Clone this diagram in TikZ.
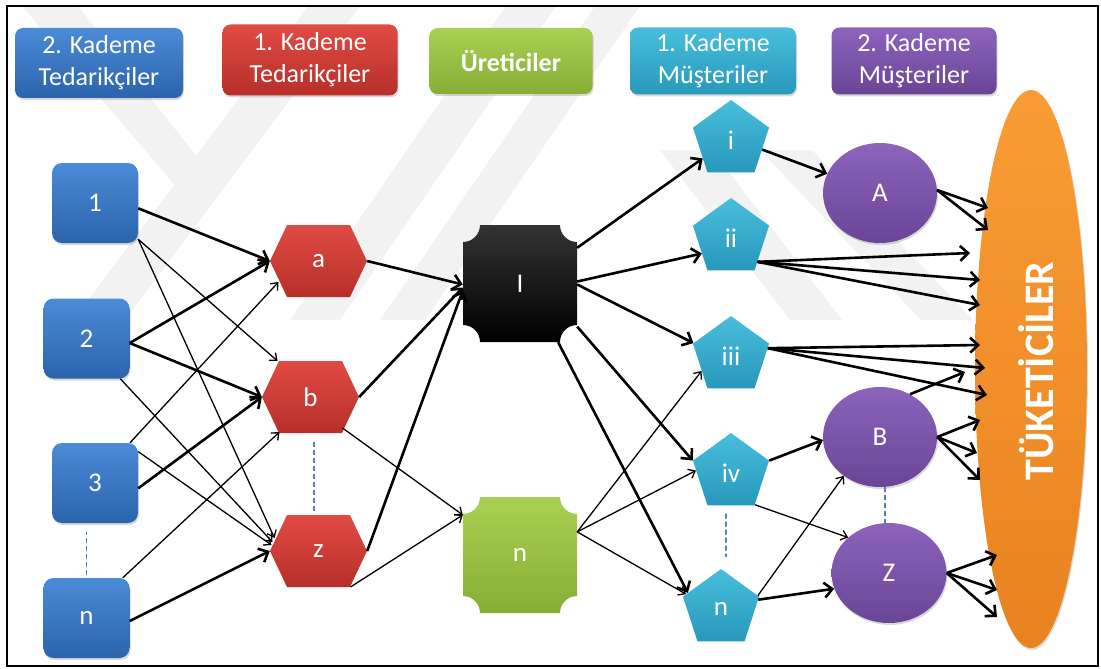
\documentclass[tikz,border=0pt]{standalone}
\usepackage{fontspec}
\setmainfont{Carlito}
\usetikzlibrary{arrows.meta,calc,shapes.geometric,shadows}

\definecolor{bluetop}{HTML}{4B8BD7}
\definecolor{bluebot}{HTML}{2C63AD}
\definecolor{redtop}{HTML}{E04B44}
\definecolor{redbot}{HTML}{B72F29}
\definecolor{greentop}{HTML}{AAD053}
\definecolor{greenbot}{HTML}{86AD35}
\definecolor{cyantop}{HTML}{48BEDC}
\definecolor{cyanbot}{HTML}{2898BB}
\definecolor{purptop}{HTML}{8D63BC}
\definecolor{purpbot}{HTML}{6A4596}
\definecolor{orangetop}{HTML}{FA9C35}
\definecolor{orangebot}{HTML}{E8831F}
\definecolor{dashblue}{HTML}{4F7FC0}
\definecolor{wmark}{HTML}{F2F2F2}

\begin{document}
\begin{tikzpicture}[x=1pt,y=1pt,
  lbl/.style={text=white,font=\fontsize{27}{30}\selectfont},
  soft shadow/.style={drop shadow={shadow xshift=1pt,shadow yshift=-2pt,opacity=0.3}},
  hdr/.style={rectangle,rounded corners=8pt,align=center,inner sep=0pt,text=white,
    font=\fontsize{26}{32}\selectfont,soft shadow},
  sqbox/.style={rectangle,rounded corners=10pt,minimum width=86pt,minimum height=80pt,
    inner sep=0pt,top color=bluetop,bottom color=bluebot,lbl,soft shadow},
  hexbox/.style={rectangle,minimum width=97pt,minimum height=72pt,inner sep=0pt,lbl,
    path picture={\shade[top color=redtop,bottom color=redbot]
      (path picture bounding box.west)
      -- ([xshift=17pt]path picture bounding box.north west)
      -- ([xshift=-17pt]path picture bounding box.north east)
      -- (path picture bounding box.east)
      -- ([xshift=-17pt]path picture bounding box.south east)
      -- ([xshift=17pt]path picture bounding box.south west) -- cycle;}},
  plaque/.style 2 args={rectangle,minimum width=114pt,minimum height=117pt,inner sep=0pt,lbl,
    path picture={\shade[top color=#1,bottom color=#2]
      ([xshift=17pt]path picture bounding box.north west)
      -- ([xshift=-17pt]path picture bounding box.north east)
      arc[start angle=180,end angle=270,radius=17pt]
      -- ([yshift=17pt]path picture bounding box.south east)
      arc[start angle=90,end angle=180,radius=17pt]
      -- ([xshift=17pt]path picture bounding box.south west)
      arc[start angle=0,end angle=90,radius=17pt]
      -- ([yshift=-17pt]path picture bounding box.north west)
      arc[start angle=270,end angle=360,radius=17pt] -- cycle;}},
  pent/.style={regular polygon,regular polygon sides=5,minimum size=80pt,inner sep=0pt,
    top color=cyantop,bottom color=cyanbot,lbl},
  oval/.style={ellipse,minimum width=114pt,minimum height=100pt,inner sep=0pt,
    top color=purptop,bottom color=purpbot,lbl,soft shadow},
  thk/.style={line width=2.6pt,-{Straight Barb[length=8pt,width=15pt]}},
  thn/.style={line width=1.3pt,-{Straight Barb[length=6pt,width=10pt]}},
  gap/.style={draw=dashblue,line width=1.6pt,dash pattern=on 5pt off 3pt}
]
\useasboundingbox (0,0) rectangle (1101,-669);

% faint background emblem
\begin{scope}
  \clip (7,-6) rectangle (1098,-666);
  \fill[wmark] (22,-6) -- (78,-6) -- (212,-176) -- (184,-196) -- cycle;
  \fill[wmark] (73,-320) -- (125,-320) -- (360,-6) -- (308,-6) -- cycle;
  \fill[wmark] (290,-320) -- (340,-320) -- (556,-6) -- (506,-6) -- cycle;
  \fill[wmark] (380,-320) -- (425,-320) -- (640,-6) -- (595,-6) -- cycle;
  \fill[wmark] (660,-150) -- (712,-150) -- (842,-320) -- (790,-320) -- cycle;
  \fill[wmark] (760,-150) -- (812,-150) -- (973,-320) -- (921,-320) -- cycle;
\end{scope}

% frame
\draw[line width=2pt] (7,-6) rectangle (1098,-666);

% legend
\node[hdr,top color=bluetop,bottom color=bluebot,minimum width=168pt,minimum height=70pt]
  (h1) at (99,-63) {2. Kademe\\Tedarikçiler};
\node[hdr,top color=redtop,bottom color=redbot,minimum width=175pt,minimum height=71pt]
  (h2) at (310,-60) {1. Kademe\\Tedarikçiler};
\node[hdr,top color=greentop,bottom color=greenbot,minimum width=163pt,minimum height=66pt,
  font=\bfseries\fontsize{26}{32}\selectfont]
  (h3) at (511,-61) {Üreticiler};
\node[hdr,top color=cyantop,bottom color=cyanbot,minimum width=166pt,minimum height=67pt]
  (h4) at (713,-61) {1. Kademe\\Müşteriler};
\node[hdr,top color=purptop,bottom color=purpbot,minimum width=165pt,minimum height=67pt]
  (h5) at (914,-61) {2. Kademe\\Müşteriler};

% second tier suppliers
\node[sqbox] (n1) at (95,-203) {1};
\node[sqbox] (n2) at (86.5,-338.5) {2};
\node[sqbox] (n3) at (95,-483) {3};
\node[sqbox] (nn) at (86.5,-618) {n};

% first tier suppliers
\node[hexbox] (a) at (318.5,-261) {a};
\node[hexbox] (b) at (310.5,-397) {b};
\node[hexbox] (z) at (318.5,-551) {z};

% producers
\node[plaque={black!80}{black}] (I) at (520,-283.5) {I};
\node[plaque={greentop}{greenbot},minimum height=116pt] (gn) at (520,-555) {n};

% first tier customers
\node[pent] (pi) at (731,-140) {i};
\node[pent] (pii) at (731,-238) {ii};
\node[pent] (piii) at (731,-356) {iii};
\node[pent] (piv) at (731,-473) {iv};
\node[pent] (pn) at (721,-609) {n};

% second tier customers
\node[oval] (A) at (880,-193) {A};
\node[oval] (B) at (880,-437) {B};
\node[oval,minimum width=115pt] (Z) at (889,-573) {Z};

% consumers
\node[ellipse,minimum width=112pt,minimum height=558pt,inner sep=0pt,
  top color=orangetop,bottom color=orangebot,soft shadow] (T) at (1031,-369) {};
\node[rotate=90,text=white,font=\bfseries\fontsize{42}{48}\selectfont]
  (Tlbl) at (1036,-371) {TÜKETİCİLER};

% gaps in the series
\draw[gap] ([yshift=3pt]nn.north) -- ([yshift=46pt]nn.north);
\draw[gap] ($(b.south)+(3.5,-9)$) -- ($(z.north)+(-4.5,3)$);
\draw[gap] ($(piv.south)+(-5,-8)$) -- ($(pn.north)+(5,12)$);
\draw[gap] ($(B.south)+(5,0)$) -- ($(Z.north)+(-4,0)$);

% second tier -> first tier
\draw[thk] (n1.-7) -- (a.west);
\draw[thn] (n1.-40) -- ($(b)+(-33,36)$);
\draw[thn] (n1.-40) -- ($(z)+(-44,13)$);
\draw[thk] (n2.-6) -- (a.west);
\draw[thk] (n2.-6) -- (b.west);
\draw[thn] (n2.-50) -- ($(z)+(-46,9)$);
\draw[thn] (n3.49) -- ($(a)+(-40,-21)$);
\draw[thk] (n3.-7) -- (b.west);
\draw[thn] (n3.36) -- ($(z)+(-47,6)$);
\draw[thn] (nn.48) -- ($(b)+(-31,-35)$);
\draw[thk] (nn.-4) -- (z.west);

% first tier -> producers
\draw[thk] (a.east) -- (I.181);
\draw[thk] (b.east) -- (I.184);
\draw[thk] (z.east) -- (I.187);
\draw[thn] ($(b)+(32,-31)$) -- (gn.145);
\draw[thn] ($(z)+(32,-36)$) -- (gn.145);

% producers -> first tier customers
\draw[thk] (I.32) -- (pi.213);
\draw[thk] (I.2) -- (pii.208);
\draw[thk] (I.-1) -- (piii.161);
\draw[thk] (I.-37) -- (piv.162);
\draw[thk] (I.-57) -- (pn.154);
\draw[thn] (gn.22) -- (piii.207);
\draw[thn] (gn.22) -- (piv.176);
\draw[thn] (gn.22) -- (pn.157);

% first tier -> second tier customers
\draw[thk] (pi.-17) -- (A.160);
\draw[thk] (piv.18) -- (B.183);
\draw[thn] (piv.-53) -- (Z.139);
\draw[thn] (pn.20) -- (B.227);
\draw[thk] (pn.14) -- (Z.196);

% customers -> consumers
\draw[thk] (A.3) -- ($(T)+(-43,161)$);
\draw[thk] (A.3) -- ($(T)+(-43,139)$);
\draw[thk] (pii.-42) -- ($(T)+(-61,116)$);
\draw[thk] (pii.-42) -- ($(T)+(-51,89)$);
\draw[thk] (pii.-42) -- ($(T)+(-51,64)$);
\draw[thk] (piii.12) -- ($(T)+(-51,24)$);
\draw[thk] (piii.12) -- ($(T)+(-46,1)$);
\draw[thk] (piii.12) -- ($(T)+(-44,-26)$);
\draw[thk] (B.55) -- ($(T)+(-66,-3)$);
\draw[thk] (B.0) -- ($(T)+(-51,-51)$);
\draw[thk] (B.0) -- ($(T)+(-54,-84)$);
\draw[thk] (B.0) -- ($(T)+(-51,-111)$);
\draw[thk] (Z.east) -- ($(T)+(-34,-186)$);
\draw[thk] (Z.east) -- ($(T)+(-34,-221)$);
\draw[thk] (Z.east) -- ($(T)+(-34,-248)$);
\end{tikzpicture}
\end{document}
